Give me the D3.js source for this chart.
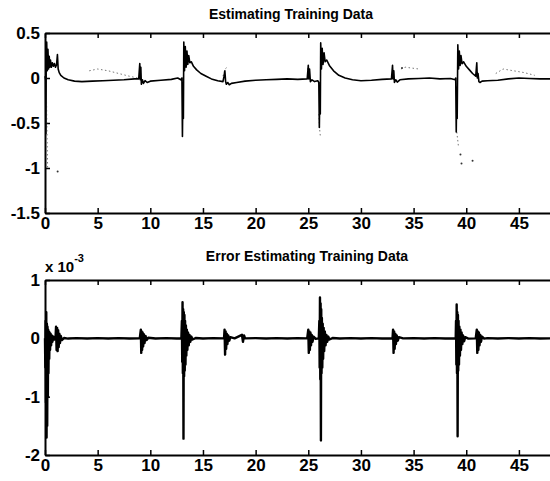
<!DOCTYPE html>
<html>
<head>
<meta charset="utf-8">
<script src="https://cdn.jsdelivr.net/npm/d3@7"></script>
<style>
  body { margin: 0; background: #fff; }
  svg { display: block; }
  .tick text { font-family: "Liberation Sans", Arial, sans-serif; font-weight: bold; font-size: 17px; fill: #000; }
</style>
</head>
<body>
<div id="chart"></div>
<script>
const W = 550, H = 481;

// --- Data ---
const xTicks = [0, 5, 10, 15, 20, 25, 30, 35, 40, 45];
const topTicks = [-1.5, -1, -0.5, 0, 0.5];
const errTicks = [-2, -1, 0, 1];

// network estimate of training data, [time, value]
const estimate = [
  [0,0.02],[0.05,-0.02],[0.08,-0.62],[0.11,0.05],[0.16,0.4],[0.22,0.08],[0.28,0.32],[0.34,0.1],[0.4,0.24],[0.46,0.12],
  [0.52,0.2],[0.6,0.12],[0.7,0.17],[0.8,0.13],[0.9,0.16],[1.0,0.12],[1.1,0.15],[1.18,0.26],[1.25,0.1],[1.35,0.06],
  [1.5,0.03],[1.8,0],[2.2,-0.02],[2.8,-0.035],[3.5,-0.04],[4.5,-0.035],[5.5,-0.03],[6.5,-0.025],[7.5,-0.02],[8.5,-0.01],
  [8.9,-0.01],[9.0,0.16],[9.05,-0.02],[9.1,0.12],[9.15,-0.07],[9.25,-0.02],[9.35,-0.06],[9.5,-0.03],[9.7,-0.05],[10,-0.035],
  [11,-0.025],[12,-0.015],[12.6,0],[12.9,-0.02],[13.0,0],[13.05,-0.65],[13.1,-0.05],[13.14,-0.45],[13.18,0.4],[13.25,0.08],
  [13.32,0.35],[13.4,0.12],[13.48,0.3],[13.56,0.15],[13.65,0.25],[13.75,0.17],[13.9,0.18],[14.1,0.13],[14.4,0.09],[14.8,0.05],
  [15.3,0.02],[15.8,-0.01],[16.4,-0.03],[16.9,-0.04],[17.0,0.02],[17.08,0.08],[17.15,-0.04],[17.22,-0.07],[17.35,-0.05],[17.5,-0.075],
  [17.7,-0.06],[18.2,-0.05],[19,-0.035],[20,-0.025],[21,-0.02],[22,-0.015],[23,-0.01],[24,-0.015],[24.9,-0.01],[25.0,0.14],
  [25.05,-0.01],[25.12,0.1],[25.2,-0.04],[25.35,-0.02],[25.6,-0.04],[25.9,-0.03],[26.0,-0.05],[26.05,-0.55],[26.1,-0.1],[26.14,-0.4],
  [26.18,0.39],[26.25,0.1],[26.32,0.33],[26.4,0.15],[26.5,0.28],[26.6,0.18],[26.75,0.2],[27,0.14],[27.4,0.08],[27.9,0.03],
  [28.5,0],[29.2,-0.02],[30,-0.03],[31,-0.025],[32,-0.015],[32.9,-0.01],[33.0,0.14],[33.05,-0.01],[33.12,0.08],[33.18,-0.05],
  [33.3,-0.02],[33.45,-0.045],[33.7,-0.02],[34.5,-0.01],[35.5,-0.005],[36.5,0],[37.5,-0.01],[38.5,-0.005],[38.95,-0.02],[39.0,0],
  [39.05,-0.6],[39.1,-0.1],[39.14,-0.45],[39.2,0.37],[39.27,0.1],[39.34,0.3],[39.42,0.14],[39.5,0.25],[39.6,0.16],[39.75,0.18],
  [40,0.13],[40.3,0.09],[40.6,0.05],[40.9,0.02],[41.0,0.17],[41.05,0],[41.12,0.05],[41.2,-0.04],[41.3,-0.05],[41.5,-0.035],
  [42,-0.03],[43,-0.025],[44,-0.01],[45,0],[46,-0.005],[47,-0.01],[48,-0.01]
];

// training data (dotted), null = gap
const reference = [
  [0.1,0],[0.15,-0.3],[0.2,-0.7],[0.25,-1.0], null,
  [4.2,0.08],[5,0.1],[6,0.08],[7,0.05],[8,0.02],[8.8,0], null,
  [16.9,0.02],[17.1,0.1],[17.3,0.12], null,
  [26.0,-0.4],[26.1,-0.6],[26.15,-0.65], null,
  [33.8,0.1],[34.2,0.12],[35.5,0.1], null,
  [39.1,-0.6],[39.25,-0.75], null,
  [42.8,0.05],[43.5,0.1],[44.5,0.08],[45.5,0.06],[46.5,0.03]
];
const strayPoints = [[1.2,-1.04],[39.45,-0.85],[39.55,-0.95],[40.6,-0.92],[25.0,0.1],[33.9,0.11]];

// estimation error, in units of 1e-3
const error = [
  [0,0],[0.03,-0.5],[0.06,0.3],[0.09,-1.1],[0.12,0.45],[0.15,-1.7],[0.18,0.25],[0.21,-1.5],[0.24,0.2],[0.27,-1.0],
  [0.3,0.15],[0.33,-0.6],[0.36,0.12],[0.4,-0.35],[0.44,0.1],[0.48,-0.2],[0.53,0.08],[0.58,-0.12],[0.64,0.05],[0.7,-0.06],
  [0.8,0.03],[0.9,-0.02],[1.0,0.01],[1.05,0.2],[1.1,-0.2],[1.15,0.18],[1.2,-0.22],[1.25,0.14],[1.3,-0.15],[1.36,0.08],
  [1.42,-0.08],[1.5,0.04],[1.6,-0.03],[1.8,0.005],[2.2,-0.004],[3,0.004],[4,-0.004],[5,0.004],[6,-0.004],[7,0.004],[8,-0.004],[9.0,0],
  [9.1,0.15],[9.14,-0.25],[9.18,0.12],[9.22,-0.2],[9.27,0.1],[9.32,-0.14],[9.38,0.07],[9.45,-0.08],[9.55,0.04],[9.65,-0.03],
  [9.8,0.01],[10.5,-0.004],[11.5,0.004],[12.5,-0.004],[12.95,0],
  [13.0,0.3],[13.03,-0.4],[13.06,0.62],[13.09,-0.6],[13.12,0.5],[13.15,-1.72],[13.18,0.45],[13.21,-0.65],[13.24,0.4],[13.27,-0.55],
  [13.3,0.3],[13.34,-0.45],[13.38,0.22],[13.42,-0.3],[13.47,0.15],[13.52,-0.2],[13.58,0.1],[13.65,-0.12],[13.72,0.06],[13.8,-0.06],
  [13.9,0.03],[14.0,-0.02],[14.3,0.005],[15,-0.004],[16,0.004],[17.0,0],
  [17.05,0.15],[17.1,-0.28],[17.15,0.12],[17.2,-0.18],[17.26,0.08],[17.32,-0.1],[17.4,0.05],[17.5,-0.04],[17.6,0.02],[18,0],
  [18.7,0.06],[18.8,-0.06],[18.9,0.05],[19,0],[20,0.004],[21,-0.004],[22,0.004],[23,-0.004],[24,0.004],[24.9,0],
  [25.0,0.15],[25.05,-0.25],[25.1,0.12],[25.15,-0.2],[25.2,0.1],[25.26,-0.12],[25.33,0.06],[25.4,-0.06],[25.5,0.03],[25.7,-0.01],[26.0,0],
  [26.05,0.3],[26.08,-0.5],[26.11,0.7],[26.14,-0.7],[26.17,0.6],[26.2,-1.75],[26.23,0.5],[26.26,-0.6],[26.29,0.35],[26.33,-0.5],
  [26.37,0.25],[26.41,-0.35],[26.46,0.18],[26.51,-0.22],[26.57,0.12],[26.64,-0.12],[26.72,0.06],[26.8,-0.06],[26.9,0.03],[27.0,-0.02],
  [27.3,0.005],[28,-0.004],[29,0.004],[30,-0.004],[31,0.004],[32,-0.004],[33.0,0],
  [33.05,0.15],[33.1,-0.25],[33.15,0.12],[33.2,-0.18],[33.26,0.08],[33.32,-0.1],[33.4,0.05],[33.5,-0.04],[33.6,0.02],[34,0],
  [35,0.004],[36,-0.004],[37,0.004],[38,-0.004],[39.0,0],
  [39.03,0.3],[39.06,-0.45],[39.09,0.58],[39.12,-0.6],[39.15,0.45],[39.18,-1.68],[39.21,0.4],[39.24,-0.55],[39.27,0.3],[39.31,-0.45],
  [39.35,0.2],[39.4,-0.3],[39.45,0.15],[39.5,-0.2],[39.56,0.1],[39.63,-0.1],[39.7,0.05],[39.8,-0.05],[39.9,0.02],[40.2,-0.005],[40.9,0],
  [41.0,0.15],[41.05,-0.25],[41.1,0.12],[41.15,-0.2],[41.2,0.1],[41.26,-0.12],[41.33,0.06],[41.4,-0.06],[41.5,0.03],[41.7,-0.005],
  [42,0.004],[43,-0.004],[44,0.004],[45,-0.004],[46,0.004],[47,-0.004],[48,0]
];

// --- SVG ---
const svg = d3.select("#chart").append("svg").attr("width", W).attr("height", H);
const font = '"Liberation Sans", Arial, sans-serif';
const plain = d => String(d); // hyphen minus, like the original

const x = d3.scaleLinear().domain([0, 48]).range([45, 550.5]);

function panel(y, yTicks) {
  const [bottom, top] = y.range();
  const g = svg.append("g");

  g.append("g").attr("transform", `translate(0,${bottom})`)
    .call(d3.axisBottom(x).tickValues(xTicks).tickSizeInner(-5).tickSizeOuter(0).tickPadding(4).tickFormat(plain));
  g.append("g").attr("transform", `translate(0,${top})`)
    .call(d3.axisTop(x).tickValues(xTicks).tickSizeInner(-5).tickSizeOuter(0).tickFormat(""));
  g.append("g").attr("transform", `translate(${x(0)},0)`)
    .call(d3.axisLeft(y).tickValues(yTicks).tickSizeInner(-5).tickSizeOuter(0).tickPadding(5).tickFormat(plain));

  g.selectAll(".domain").attr("stroke", "#000").attr("stroke-width", 2);
  g.selectAll(".tick line").attr("stroke", "#000").attr("stroke-width", 1.5);
  return g;
}

// top panel
const y1 = d3.scaleLinear().domain([-1.5, 0.5]).range([213, 33]);
panel(y1, topTicks);

const line1 = d3.line().defined(d => d !== null).x(d => x(d[0])).y(d => y1(d[1]));
svg.append("path").datum(reference).attr("d", line1)
  .attr("fill", "none").attr("stroke", "#777").attr("stroke-width", 1).attr("stroke-dasharray", "1.5,2.5");
svg.selectAll(".stray").data(strayPoints).join("circle").attr("class", "stray")
  .attr("cx", d => x(d[0])).attr("cy", d => y1(d[1])).attr("r", 1).attr("fill", "#333");
svg.append("path").datum(estimate).attr("d", line1)
  .attr("fill", "none").attr("stroke", "#000").attr("stroke-width", 1.6).attr("stroke-linejoin", "round");

// bottom panel
const y2 = d3.scaleLinear().domain([-2, 1]).range([455, 280]);
panel(y2, errTicks);

const line2 = d3.line().x(d => x(d[0])).y(d => y2(d[1]));
svg.append("path").datum(error).attr("d", line2)
  .attr("fill", "none").attr("stroke", "#000").attr("stroke-width", 2.4).attr("stroke-linejoin", "round");

// titles
svg.append("text").attr("x", 291).attr("y", 19).attr("text-anchor", "middle")
  .attr("font-family", font).attr("font-size", 14).attr("font-weight", "bold")
  .text("Estimating Training Data");
svg.append("text").attr("x", 307).attr("y", 261).attr("text-anchor", "middle")
  .attr("font-family", font).attr("font-size", 14).attr("font-weight", "bold")
  .text("Error Estimating Training Data");

// exponent label
const ex = svg.append("text").attr("x", 45).attr("y", 272)
  .attr("font-family", font).attr("font-size", 15).attr("font-weight", "bold");
ex.append("tspan").text("x 10");
ex.append("tspan").attr("dy", -10).attr("font-size", 11).text("-3");
</script>
</body>
</html>
